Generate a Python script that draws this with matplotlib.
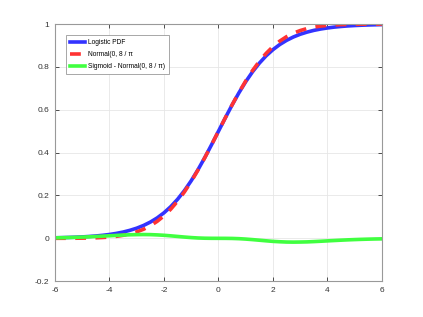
import numpy as np
import matplotlib.pyplot as plt

# x samples and values (curves are symmetric about x=0)
x_pos = [0, 0.25, 0.5, 0.75, 1.0, 1.25, 1.5, 1.75, 2.0, 2.25, 2.5, 2.75, 3.0,
         3.25, 3.5, 3.75, 4.0, 4.25, 4.5, 4.75, 5.0, 5.25, 5.5, 5.75, 6.0]
logistic_pos = [0.5, 0.5622, 0.6225, 0.6792, 0.7311, 0.7773, 0.8176, 0.8520,
                0.8808, 0.9047, 0.9241, 0.9399, 0.9526, 0.9626, 0.9707, 0.9770,
                0.9820, 0.9859, 0.9890, 0.9914, 0.9933, 0.9948, 0.9959, 0.9968,
                0.9975]
normal_pos = [0.5, 0.5623, 0.6230, 0.6808, 0.7346, 0.7833, 0.8264, 0.8636,
              0.8950, 0.9207, 0.9414, 0.9576, 0.9699, 0.9792, 0.9859, 0.9906,
              0.9939, 0.9961, 0.9976, 0.9985, 0.9991, 0.9995, 0.9997, 0.9998,
              0.9999]
diff_pos = [0.0, -0.0001, -0.0005, -0.0016, -0.0035, -0.0060, -0.0088, -0.0116,
            -0.0142, -0.0160, -0.0173, -0.0177, -0.0173, -0.0166, -0.0152,
            -0.0136, -0.0119, -0.0102, -0.0086, -0.0071, -0.0058, -0.0047,
            -0.0038, -0.0030, -0.0024]

x = np.concatenate([-np.array(x_pos[:0:-1]), x_pos])
logistic = np.concatenate([1 - np.array(logistic_pos[:0:-1]), logistic_pos])
normal = np.concatenate([1 - np.array(normal_pos[:0:-1]), normal_pos])
diff = np.concatenate([-np.array(diff_pos[:0:-1]), diff_pos])

xticks = [-6, -4, -2, 0, 2, 4, 6]
yticks = [-0.2, 0, 0.2, 0.4, 0.6, 0.8, 1]
ytick_labels = ["-0.2", "0", "0.2", "0.4", "0.6", "0.8", "1"]

plt.rcParams["font.family"] = ["Liberation Sans", "DejaVu Sans"]

fig = plt.figure(figsize=(4.23, 3.17), dpi=100)
ax = fig.add_axes([0.13, 0.113, 0.773, 0.811])

ax.plot(x, logistic, color=(0.2, 0.2, 1.0), linewidth=2.6, label="Logistic PDF")
ax.plot(x, normal, color=(1.0, 0.2, 0.2), linewidth=2.6, linestyle=(0, (3, 2.6)),
        label="Normal(0, 8 / π")
ax.plot(x, diff, color=(0.25, 1.0, 0.25), linewidth=2.6,
        label="Sigmoid - Normal(0, 8 / π)")

ax.set_xlim(-6, 6)
ax.set_ylim(-0.2, 1)
ax.set_xticks(xticks)
ax.set_xticklabels([str(t) for t in xticks])
ax.set_yticks(yticks)
ax.set_yticklabels(ytick_labels)
ax.grid(True, color="#e6e6e6", linewidth=0.6)
ax.set_axisbelow(True)
ax.tick_params(direction="in", length=3, width=0.6, labelsize=6, colors="#333333",
               top=True, right=True, pad=4)
for s in ax.spines.values():
    s.set_color("#999999")
    s.set_linewidth(0.8)

leg = ax.legend(loc="upper left", fontsize=4.8, handlelength=2.3, handletextpad=0.4,
                borderpad=0.6, labelspacing=0.75, fancybox=False, framealpha=1,
                bbox_to_anchor=(0.023, 0.97))
leg.get_frame().set_edgecolor("#999999")
leg.get_frame().set_linewidth(0.6)

fig.savefig("out.png", dpi=100)
